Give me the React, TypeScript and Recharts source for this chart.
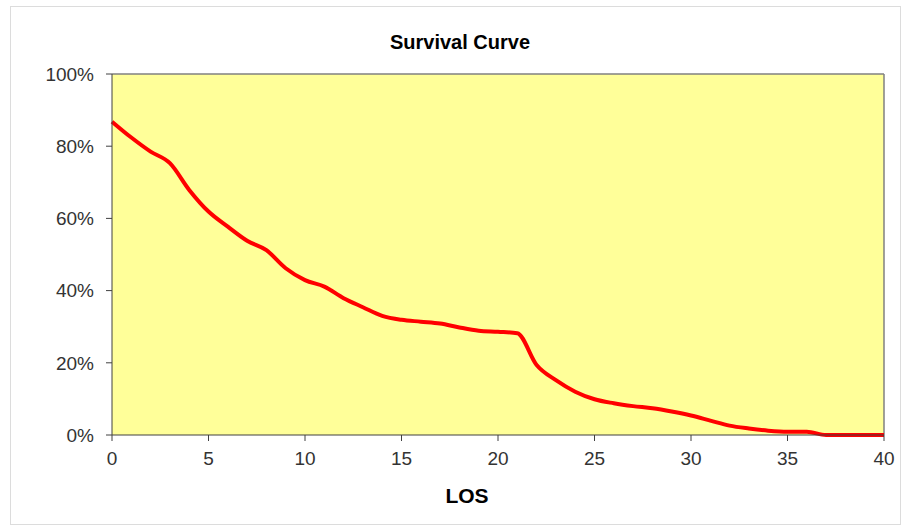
import { LineChart, Line, XAxis, YAxis, CartesianGrid, ReferenceLine } from 'recharts';

const los = [0, 1, 2, 3, 4, 5, 6, 7, 8, 9, 10, 11, 12, 13, 14, 15, 16, 17, 18, 19, 20,
  21, 22, 23, 24, 25, 26, 27, 28, 29, 30, 31, 32, 33, 34, 35, 36, 37, 38, 39, 40];

const survival = [86.8, 82.4, 78.5, 75.3, 67.9, 61.9, 57.7, 53.8, 51.2, 46.2, 42.9,
  41.1, 37.9, 35.4, 33.0, 31.9, 31.4, 30.9, 29.8, 28.9, 28.6,
  28.2, 19.4, 15.2, 12.0, 9.9, 8.8, 8.0, 7.4, 6.5, 5.4,
  4.0, 2.6, 1.8, 1.2, 0.9, 0.9, 0, 0, 0, 0];

const xTicks = [0, 5, 10, 15, 20, 25, 30, 35, 40];
const yTicks = [0, 20, 40, 60, 80, 100];

const FONT = 'Arial, "Liberation Sans", sans-serif';

export default function App() {
  const data = los.map((x, i) => ({ los: x, value: survival[i] }));

  return (
    <div style={{ position: 'absolute', left: 0, top: 0, width: 906, height: 527, background: '#fff', fontFamily: FONT }}>
      <div style={{ position: 'absolute', left: 10, top: 6, width: 889, height: 517, border: '1px solid #dcdcdc' }} />
      <LineChart
        width={906}
        height={527}
        data={data}
        margin={{ top: 74, right: 22, bottom: 0, left: 0 }}
        style={{ position: 'absolute', left: 0, top: 0 }}
      >
        <CartesianGrid horizontal={false} vertical={false} fill="#ffff99" />
        <XAxis
          dataKey="los"
          type="number"
          domain={[0, 40]}
          ticks={xTicks}
          height={92}
          tickSize={6}
          tickMargin={11}
          stroke="#404040"
          tick={{ fill: '#333', fontSize: 19, fontFamily: FONT }}
        />
        <YAxis
          type="number"
          domain={[0, 100]}
          ticks={yTicks}
          width={112}
          tickSize={6}
          tickMargin={12}
          stroke="#404040"
          tickFormatter={(v: number) => `${v}%`}
          tick={{ fill: '#333', fontSize: 19, fontFamily: FONT }}
        />
        <ReferenceLine y={100} stroke="#808080" strokeWidth={1.5} />
        <ReferenceLine x={40} stroke="#808080" strokeWidth={1.5} />
        <Line
          type="monotone"
          dataKey="value"
          stroke="#ff0000"
          strokeWidth={4}
          dot={false}
          isAnimationActive={false}
        />
      </LineChart>
      <div style={{ position: 'absolute', left: 310, top: 30, width: 300, textAlign: 'center', fontSize: 20, lineHeight: '24px', fontWeight: 'bold', color: '#000' }}>
        Survival Curve
      </div>
      <div style={{ position: 'absolute', left: 417, top: 483, width: 100, textAlign: 'center', fontSize: 21, lineHeight: '26px', fontWeight: 'bold', color: '#000' }}>
        LOS
      </div>
    </div>
  );
}
